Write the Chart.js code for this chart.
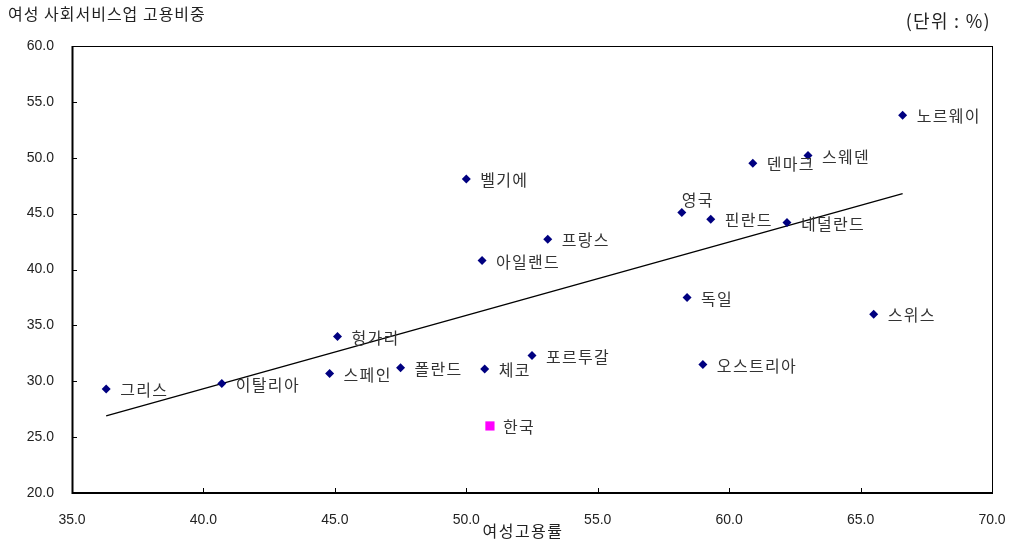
<!DOCTYPE html>
<html><head><meta charset="utf-8">
<script src="https://cdn.jsdelivr.net/npm/chart.js@4"></script>
<style>
html,body{margin:0;padding:0;background:#fff;}
#wrap{position:relative;width:1012px;height:543px;}
canvas{position:absolute;left:0;top:0;}
</style></head>
<body><div id="wrap"><canvas id="c" width="1012" height="543"></canvas></div>
<script>
const countries = ['그리스','이탈리아','스페인','헝가리','폴란드','체코','포르투갈','벨기에','프랑스','아일랜드','영국','핀란드','네덜란드','덴마크','스웨덴','노르웨이','독일','스위스','오스트리아'];
const femaleEmployment = [36.3,40.7,44.8,45.1,47.5,50.7,52.5,50.0,53.1,50.6,58.2,59.3,62.2,60.9,63.0,66.6,58.4,65.5,59.0];
const socialServiceShare = [29.3,29.8,30.7,34.0,31.2,31.1,32.3,48.1,42.7,40.8,45.1,44.5,44.2,49.5,50.2,53.8,37.5,36.0,31.5];
const koreaLabel = ['한국'];
const koreaEmployment = [50.9];
const koreaShare = [26.0];
const trendX = [36.3, 66.6];
const trendY = [26.9, 46.8];
const xTicks = [35,40,45,50,55,60,65,70];
const yTicks = [20,25,30,35,40,45,50,55,60];
const yTitle = '여성 사회서비스업 고용비중';
const xTitle = '여성고용률';
const unitText = '(단위 : %)';

const KFONT = '"Noto Sans CJK KR", "Noto Sans", sans-serif';
const NFONT = '"Liberation Sans", Arial, sans-serif';

const labelPlugin = {
  id:'labels',
  afterDatasetsDraw(chart){
    const ctx = chart.ctx;
    ctx.save();
    ctx.font = '16px ' + KFONT;
    ctx.letterSpacing = '1.3px';
    ctx.fillStyle = '#333';
    ctx.textBaseline = 'middle';
    ctx.textAlign = 'left';
    [0,1].forEach(di=>{
      const ds = chart.data.datasets[di];
      const meta = chart.getDatasetMeta(di);
      meta.data.forEach((pt,i)=>{
        const name = ds.names[i];
        if(name==='영국'){ ctx.fillText(name, pt.x, pt.y-13); }
        else { ctx.fillText(name, pt.x+(di===1?13:14), pt.y+1); }
      });
    });
    // titles
    ctx.fillStyle = '#222';
    ctx.textBaseline = 'alphabetic';
    ctx.font = '16px ' + KFONT;
    ctx.letterSpacing = '1px';
    ctx.fillText(yTitle, 8, 20);
    ctx.font = '18px ' + KFONT;
    ctx.letterSpacing = '1.3px';
    ctx.textAlign = 'right';
    ctx.fillText(unitText, 991, 28);
    ctx.font = '16px ' + KFONT;
    ctx.letterSpacing = '1.5px';
    ctx.textAlign = 'center';
    ctx.fillText(xTitle, 523, 537);
    ctx.letterSpacing = '0px';
    // frame and inward ticks
    const a = chart.chartArea;
    ctx.strokeStyle = '#000';
    ctx.lineWidth = 1;
    ctx.strokeRect(a.left+0.5, a.top+0.5, a.right-a.left, a.bottom-a.top);
    ctx.lineWidth = 2;
    ctx.beginPath();
    ctx.moveTo(a.left+0.5, a.top); ctx.lineTo(a.left+0.5, a.bottom+1);
    ctx.moveTo(a.left, a.bottom); ctx.lineTo(a.right+1, a.bottom);
    ctx.stroke();
    ctx.lineWidth = 1;
    ctx.beginPath();
    const xs = chart.scales.x, ys = chart.scales.y;
    xTicks.forEach(v=>{ const px = Math.round(xs.getPixelForValue(v))+0.5; ctx.moveTo(px, a.bottom); ctx.lineTo(px, a.bottom-5); });
    yTicks.forEach(v=>{ const py = Math.round(ys.getPixelForValue(v))+0.5; ctx.moveTo(a.left, py); ctx.lineTo(a.left+5, py); });
    ctx.stroke();
    ctx.restore();
  }
};

new Chart(document.getElementById('c'), {
  type:'scatter',
  data:{
    datasets:[
      { names: countries, data: femaleEmployment.map((x,i)=>({x, y: socialServiceShare[i]})),
        pointStyle:'rectRot', pointRadius:4.5, pointHoverRadius:4.5,
        backgroundColor:'#000080', borderColor:'#000080', borderWidth:0 },
      { names: koreaLabel, data: koreaEmployment.map((x,i)=>({x, y: koreaShare[i]})),
        pointStyle:'rect', pointRadius:6.5, pointHoverRadius:6.5,
        backgroundColor:'#FF00FF', borderColor:'#FF00FF', borderWidth:0 },
      { names: [], type:'line', data: trendX.map((x,i)=>({x, y: trendY[i]})),
        showLine:true, borderColor:'#000', borderWidth:1.3, pointRadius:0, fill:false }
    ]
  },
  options:{
    responsive:false, animation:false, devicePixelRatio:1,
    layout:{ padding:{ top:46, right:20, left:0, bottom:0 } },
    plugins:{ legend:{display:false}, tooltip:{enabled:false} },
    scales:{
      x:{ type:'linear', min:35, max:70,
        afterBuildTicks(s){ s.ticks = xTicks.map(v=>({value:v})); },
        afterFit(s){ s.height = 50; s.paddingLeft = 0; s.paddingRight = 0; },
        grid:{ display:false, drawTicks:false }, border:{ display:false },
        ticks:{ padding:19, color:'#222', font:{ family:NFONT, size:14 }, callback:v=>v.toFixed(1), maxRotation:0 } },
      y:{ type:'linear', min:20, max:60,
        afterBuildTicks(s){ s.ticks = yTicks.map(v=>({value:v})); },
        afterFit(s){ s.width = 72; s.paddingTop = 0; s.paddingBottom = 0; },
        grid:{ display:false, drawTicks:false }, border:{ display:false },
        ticks:{ padding:18, color:'#222', font:{ family:NFONT, size:14 }, callback:v=>v.toFixed(1) } }
    }
  },
  plugins:[labelPlugin]
});
</script></body></html>
